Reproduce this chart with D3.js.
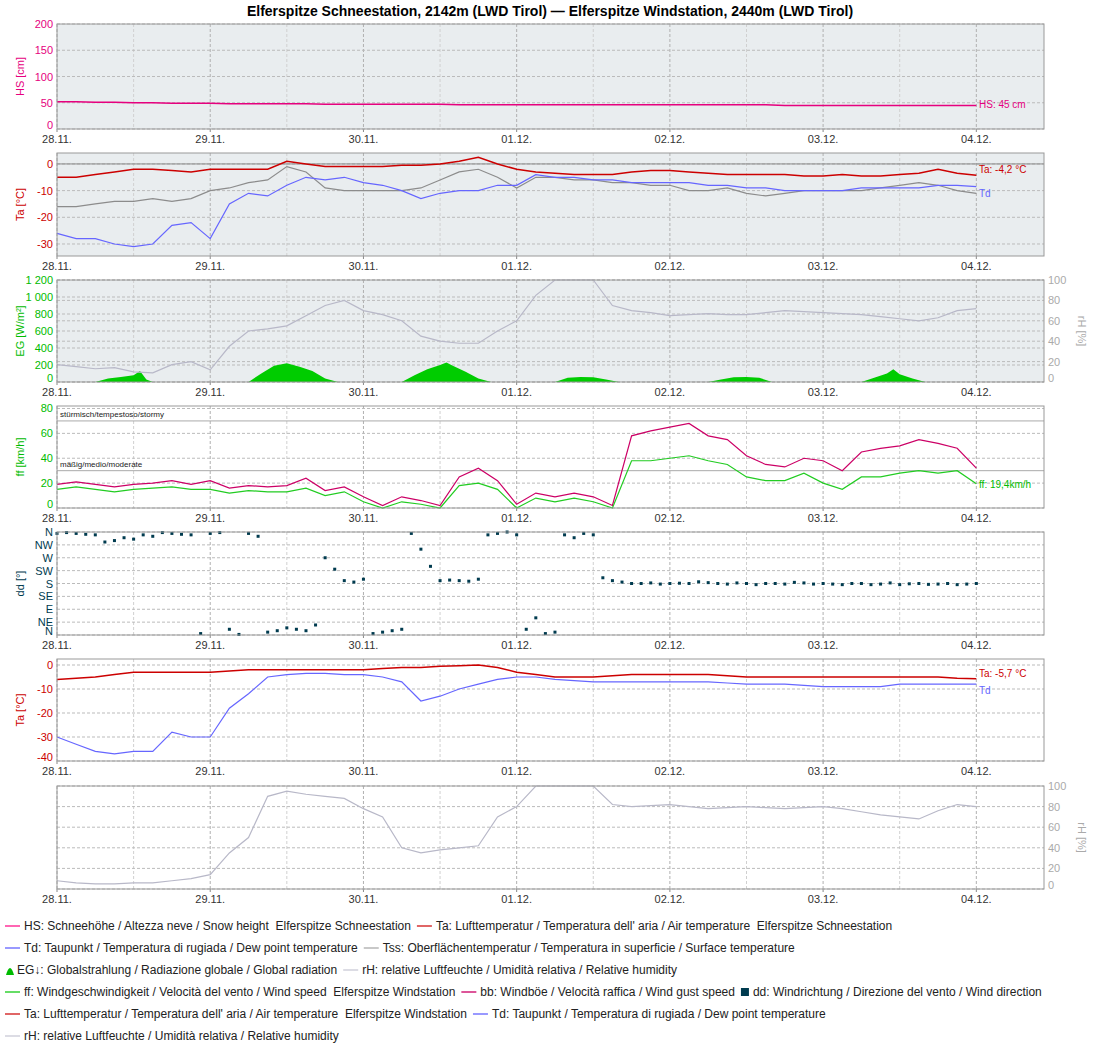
<!DOCTYPE html>
<html><head><meta charset="utf-8">
<script src="https://cdn.jsdelivr.net/npm/d3@7"></script>
<style>body{margin:0;background:#fff}text{font-family:"Liberation Sans",Arial,sans-serif}</style>
</head><body><svg id="c" width="1100" height="1050"></svg>
<script>
// hours since 28.11. 00:00, every 3 hours
var hours = d3.range(0, 145, 3);
var halfHours = d3.range(1.5, 145, 3);
var dayLabels = ["28.11.", "29.11.", "30.11.", "01.12.", "02.12.", "03.12.", "04.12."];

var hs = [52,52,51,51,50,50,49,49,49,48,48,48,48,48,47,47,47,47,47,47,47,46,46,46,46,46,46,46,46,46,46,46,46,46,46,46,46,46,45,45,45,45,45,45,45,45,45,45,45];
var ta1 = [-5,-5,-4,-3,-2,-2,-2.5,-3,-2,-2,-2,-2,1,0,-1,-1,-1,-1,-0.5,-0.5,0,1,2.5,0,-2,-3,-3.5,-4,-4,-4,-3,-2.5,-2.5,-3,-3.5,-4,-4,-4,-4,-4.5,-4.5,-4,-4.5,-4.5,-4,-3.5,-2,-3.5,-4.2];
var td1 = [-26,-28,-28,-30,-31,-30,-23,-22,-28,-15,-11,-12,-8,-5,-6,-5,-7,-8,-10,-13,-11,-10,-10,-8,-8,-4,-5,-5,-6,-6,-7,-7,-7,-7,-8,-8,-9,-9,-10,-10,-10,-10,-9,-9,-9,-9,-8,-8,-8.5];
var tss = [-16,-16,-15,-14,-14,-13,-14,-13,-10,-9,-7,-6,-1,-3,-9,-10,-10,-10,-10,-9,-6,-3,-2,-5,-9,-5,-5,-6,-6,-7,-7,-8,-8,-10,-10,-9,-11,-12,-11,-10,-10,-10,-10,-9,-8,-7,-8,-10,-11];
var rh1 = [17,15,13,14,10,9,17,20,12,35,50,52,55,65,75,80,70,66,60,45,40,38,38,50,60,85,100,100,100,75,70,68,65,66,67,66,66,68,70,69,68,67,66,64,62,60,63,70,72];
var egHours = [0,6,8,10,12,13,14,15,30,32,34,36,38,40,42,44,54,56,58,60,61,62,64,66,68,78,80,82,84,86,88,102,104,106,108,110,112,126,128,130,131,132,134,136,150];
var eg = [0,0,40,60,80,130,30,0,0,100,190,220,180,130,40,0,0,80,150,200,230,190,120,40,0,0,50,60,55,30,0,0,30,55,60,50,0,0,50,100,150,90,40,0,0];
var ff = [15,17,15,13,15,16,17,15,15,12,14,13,13,16,10,13,5,0,5,3,0,18,20,15,0,8,5,8,5,0,38,38,40,42,38,35,25,22,22,28,20,15,25,25,28,30,28,30,19.4];
var bb = [19,21,19,17,19,20,22,19,22,16,18,17,18,24,14,17,9,2,9,6,2,25,32,22,3,12,9,12,9,2,58,62,65,68,58,55,42,35,33,40,38,30,45,48,50,55,52,48,32];
var dd = [355,355,350,330,335,345,355,350,355,20,355,10,25,15,270,190,195,10,20,300,190,190,195,355,350,60,10,340,350,190,180,182,180,180,183,178,180,180,178,182,180,176,180,178,176,180,178,176,180];
var ddHalf = [358,352,325,340,350,358,352,5,358,2,345,15,20,35,230,185,5,15,355,240,192,188,350,360,20,5,350,355,200,185,180,178,181,186,180,182,176,180,184,178,178,180,176,182,179,177,180,178];
var ta2 = [-6,-5.5,-5,-4,-3,-3,-3,-3,-3,-2.5,-2,-2,-2,-2,-2,-2,-2,-1.5,-1,-1,-0.5,-0.3,0,-1,-3,-4,-5,-5,-5,-4.5,-4,-4,-4,-4,-4,-4.5,-5,-5,-5,-5,-5,-5,-5,-5,-5,-5,-5,-5.5,-5.7];
var td2 = [-30,-33,-36,-37,-36,-36,-28,-30,-30,-18,-12,-5,-4,-3.5,-3.5,-4,-4,-5,-7,-15,-13,-10,-8,-6,-5,-5,-6,-6.5,-7,-7,-7,-7,-7,-7,-7,-7.5,-8,-8,-8,-8.5,-9,-9,-9,-9,-8,-8,-8,-8,-8];
var rh2 = [8,6,5,5,6,6,8,10,14,35,50,90,95,92,90,88,78,70,40,35,38,40,42,70,80,100,100,100,100,82,80,81,82,80,78,79,80,79,78,79,80,78,75,72,70,68,76,82,80];

var legendRows = [
  [["line","#ff66b3","HS: Schneehöhe / Altezza neve / Snow height  Elferspitze Schneestation"],["line","#e06666","Ta: Lufttemperatur / Temperatura dell' aria / Air temperature  Elferspitze Schneestation"]],
  [["line","#9999ff","Td: Taupunkt / Temperatura di rugiada / Dew point temperature"],["line","#c8c8c8","Tss: Oberflächentemperatur / Temperatura in superficie / Surface temperature"]],
  [["bell","#00bb00","EG\u2193: Globalstrahlung / Radiazione globale / Global radiation"],["line","#dcdce4","rH: relative Luftfeuchte / Umidità relativa / Relative humidity"]],
  [["line","#66dd66","ff: Windgeschwindigkeit / Velocità del vento / Wind speed  Elferspitze Windstation"],["line","#dd5599","bb: Windböe / Velocità raffica / Wind gust speed"],["sq","#003b4f","dd: Windrichtung / Direzione del vento / Wind direction"]],
  [["line","#e06666","Ta: Lufttemperatur / Temperatura dell' aria / Air temperature  Elferspitze Windstation"],["line","#9999ff","Td: Taupunkt / Temperatura di rugiada / Dew point temperature"]],
  [["line","#dcdce4","rH: relative Luftfeuchte / Umidità relativa / Relative humidity"]]
];

var svg = d3.select("#c");
var L = 57, R = 1044;
var x = d3.scaleLinear().domain([0, 154.6]).range([L, R]);

svg.append("text").attr("x", 550).attr("y", 16).attr("text-anchor", "middle")
  .attr("font-size", 14).attr("font-weight", "bold")
  .text("Elferspitze Schneestation, 2142m (LWD Tirol) \u2014 Elferspitze Windstation, 2440m (LWD Tirol)");

function panel(top, bottom, bg) {
  var g = svg.append("g");
  g.append("rect").attr("x", L).attr("y", top).attr("width", R - L).attr("height", bottom - top)
    .attr("fill", bg);
  d3.range(0, 155, 12).forEach(function (h) {
    g.append("line").attr("x1", x(h)).attr("x2", x(h)).attr("y1", top).attr("y2", bottom)
      .attr("stroke", h % 24 ? "#d0d0d0" : "#b0b0b0").attr("stroke-dasharray", "3,2");
  });
  dayLabels.forEach(function (d, i) {
    g.append("text").attr("x", x(i * 24)).attr("y", bottom + 14).attr("text-anchor", "middle")
      .attr("font-size", 11).attr("fill", "#333").text(d);
    g.append("line").attr("x1", x(i * 24)).attr("x2", x(i * 24)).attr("y1", bottom).attr("y2", bottom + 3).attr("stroke", "#888");
  });
  return g;
}
function frame(top, bottom) {
  svg.append("rect").attr("x", L).attr("y", top).attr("width", R - L).attr("height", bottom - top)
    .attr("fill", "none").attr("stroke", "#999");
}
function yAxis(g, y, ticks, color, label, top, bottom, fmt, right) {
  ticks.forEach(function (t) {
    var yy = y(t);
    g.append("line").attr("x1", L).attr("x2", R).attr("y1", yy).attr("y2", yy)
      .attr("stroke", "#bbb").attr("stroke-dasharray", "3,2");
    g.append("text").attr("x", right ? R + 4 : L - 4).attr("y", Math.min(yy + 4, bottom))
      .attr("text-anchor", right ? "start" : "end").attr("font-size", 11).attr("fill", color)
      .text(fmt ? fmt(t) : t);
  });
  var cy = (top + bottom) / 2;
  var lx = right ? 1078 : 24;
  g.append("text").attr("transform", "translate(" + lx + "," + cy + ") rotate(" + (right ? 90 : -90) + ")")
    .attr("text-anchor", "middle").attr("font-size", 11).attr("fill", color).text(label);
}
function line(g, y, xs, vals, color, w) {
  g.append("path").datum(vals)
    .attr("d", d3.line().x(function (d, i) { return x(xs[i]); }).y(function (d) { return y(d); }))
    .attr("fill", "none").attr("stroke", color).attr("stroke-width", w || 1.2);
}
function endLabel(text, yy, color) {
  svg.append("text").attr("x", 979).attr("y", yy).attr("font-size", 10).attr("fill", color).text(text);
}

// panel 1: HS
var g1 = panel(24, 129, "#e9edef");
var y1 = d3.scaleLinear().domain([0, 200]).range([129, 24]);
yAxis(g1, y1, [0, 50, 100, 150, 200], "#e6007e", "HS [cm]", 24, 129);
line(g1, y1, hours, hs, "#e6007e", 1.5);
frame(24, 129);
endLabel("HS: 45 cm", y1(45) + 3, "#e6007e");

// panel 2: Ta / Td / Tss
var g2 = panel(153, 256, "#e9edef");
var y2 = d3.scaleLinear().domain([-34.5, 4.1]).range([256, 153]);
yAxis(g2, y2, [0, -10, -20, -30], "#cc0000", "Ta [°C]", 153, 256);
g2.append("line").attr("x1", L).attr("x2", R).attr("y1", y2(0)).attr("y2", y2(0)).attr("stroke", "#888");
line(g2, y2, hours, tss, "#8c8c8c");
line(g2, y2, hours, td1, "#6666ff");
line(g2, y2, hours, ta1, "#cc0000", 1.5);
frame(153, 256);
endLabel("Ta: -4,2 °C", y2(-4.2) - 2, "#cc0000");
endLabel("Td", y2(-8.5) + 10, "#6666ff");

// panel 3: EG / rH
var g3 = panel(280, 382, "#e9edef");
var y3 = d3.scaleLinear().domain([0, 1200]).range([382, 280]);
var y3r = d3.scaleLinear().domain([0, 100]).range([382, 280]);
yAxis(g3, y3, [0, 200, 400, 600, 800, 1000, 1200], "#00bb00", "EG [W/m²]", 280, 382,
  function (v) { return v >= 1000 ? "1 " + String(v).slice(1) : v; });
yAxis(g3, y3r, [0, 20, 40, 60, 80, 100], "#aaa", "rH [%]", 280, 382, null, true);
g3.append("path").datum(eg)
  .attr("d", d3.area().x(function (d, i) { return x(egHours[i]); }).y0(382).y1(function (d) { return y3(d); }))
  .attr("fill", "#00cc00");
line(g3, y3r, hours, rh1, "#b8b8c8");
frame(280, 382);

// panel 4: ff / bb
var g4 = panel(406, 508, "#fff");
var y4 = d3.scaleLinear().domain([0, 82]).range([508, 406]);
yAxis(g4, y4, [0, 20, 40, 60, 80], "#00bb00", "ff [km/h]", 406, 508);
[[30, "mäßig/medio/moderate"], [70, "stürmisch/tempestoso/stormy"]].forEach(function (b) {
  g4.append("line").attr("x1", L).attr("x2", R).attr("y1", y4(b[0])).attr("y2", y4(b[0])).attr("stroke", "#aaa");
  g4.append("text").attr("x", L + 3).attr("y", y4(b[0]) - 4).attr("font-size", 8).attr("fill", "#222").text(b[1]);
});
line(g4, y4, hours, bb, "#cc0066");
line(g4, y4, hours, ff, "#22cc22");
frame(406, 508);
endLabel("ff: 19,4km/h", y4(19.4) + 4, "#00bb00");

// panel 5: dd
var g5 = panel(532, 635, "#fff");
var y5 = d3.scaleLinear().domain([0, 360]).range([635, 532]);
var dirs = ["N", "NE", "E", "SE", "S", "SW", "W", "NW", "N"];
yAxis(g5, y5, d3.range(0, 361, 45), "#003b4f", "dd [°]", 532, 635, function (v) { return dirs[v / 45]; });
function ddDots(xs, vals) {
  g5.append("g").selectAll("rect").data(vals).enter().append("rect")
    .attr("x", function (d, i) { return x(xs[i]) - 1.5; })
    .attr("y", function (d) { return y5(d) - 1.5; })
    .attr("width", 3).attr("height", 3).attr("fill", "#003b4f");
}
ddDots(hours, dd);
ddDots(halfHours, ddHalf);
frame(532, 635);

// panel 6: Ta / Td Windstation
var g6 = panel(659, 761, "#fff");
var y6 = d3.scaleLinear().domain([-40, 2.5]).range([761, 659]);
yAxis(g6, y6, [0, -10, -20, -30, -40], "#cc0000", "Ta [°C]", 659, 761);
line(g6, y6, hours, td2, "#6666ff");
line(g6, y6, hours, ta2, "#cc0000", 1.5);
frame(659, 761);
endLabel("Ta: -5,7 °C", y6(-5.7) - 2, "#cc0000");
endLabel("Td", y6(-8) + 10, "#6666ff");

// panel 7: rH Windstation
var g7 = panel(786, 889, "#fff");
var y7 = d3.scaleLinear().domain([0, 100]).range([889, 786]);
yAxis(g7, y7, [0, 20, 40, 60, 80, 100], "#aaa", "rH [%]", 786, 889, null, true);
line(g7, y7, hours, rh2, "#b8b8c8");
frame(786, 889);

// legend
legendRows.forEach(function (row, r) {
  var yy = 926 + r * 22;
  var cx = 5;
  row.forEach(function (it) {
    if (it[0] == "line") {
      svg.append("line").attr("x1", cx).attr("x2", cx + 15).attr("y1", yy).attr("y2", yy).attr("stroke", it[1]).attr("stroke-width", 2);
    } else if (it[0] == "bell") {
      svg.append("path").attr("d", "M" + (cx + 1) + "," + (yy + 5) + " Q" + (cx + 5) + "," + (yy - 9) + " " + (cx + 9) + "," + (yy + 5) + "Z").attr("fill", it[1]);
    } else {
      svg.append("rect").attr("x", cx).attr("y", yy - 4).attr("width", 8).attr("height", 8).attr("fill", it[1]);
    }
    var t = svg.append("text").attr("x", cx + (it[0] == "line" ? 19 : 12)).attr("y", yy + 4)
      .attr("font-size", 12).attr("fill", "#222").attr("xml:space", "preserve").text(it[2]);
    cx += (it[0] == "line" ? 19 : 12) + t.node().getComputedTextLength() + 6;
  });
});
</script></body></html>
